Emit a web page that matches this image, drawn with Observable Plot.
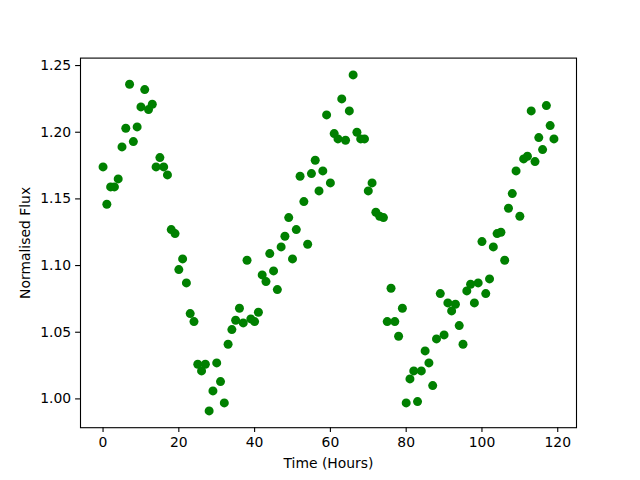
<!DOCTYPE html>
<html>
<head>
<meta charset="utf-8">
<script src="https://cdn.jsdelivr.net/npm/d3@7"></script>
<script src="https://cdn.jsdelivr.net/npm/@observablehq/plot@0.6"></script>
<style>
  html, body { margin: 0; padding: 0; background: #fff; }
</style>
</head>
<body>
<div id="chart"></div>
<script>
const hours = [0,1,2,3,4,5,6,7,8,9,10,11,12,13,14,15,16,17,18,19,
  20,21,22,23,24,25,26,27,28,29,30,31,32,33,34,35,36,37,38,39,
  40,41,42,43,44,45,46,47,48,49,50,51,52,53,54,55,56,57,58,59,
  60,61,62,63,64,65,66,67,68,69,70,71,72,73,74,75,76,77,78,79,
  80,81,82,83,84,85,86,87,88,89,90,91,92,93,94,95,96,97,98,99,
  100,101,102,103,104,105,106,107,108,109,110,111,112,113,114,115,116,117,118,119];

const flux = [1.174,1.146,1.159,1.159,1.165,1.189,1.203,1.236,1.193,1.204,
  1.219,1.232,1.217,1.221,1.174,1.181,1.174,1.168,1.127,1.124,
  1.097,1.105,1.087,1.064,1.058,1.026,1.021,1.026,0.991,1.006,
  1.027,1.013,0.997,1.041,1.052,1.059,1.068,1.057,1.104,1.060,
  1.058,1.065,1.093,1.088,1.109,1.096,1.082,1.114,1.122,1.136,
  1.105,1.127,1.167,1.148,1.116,1.169,1.179,1.156,1.171,1.213,
  1.162,1.199,1.195,1.225,1.194,1.216,1.243,1.200,1.195,1.195,
  1.156,1.162,1.140,1.137,1.136,1.058,1.083,1.058,1.047,1.068,
  0.997,1.015,1.021,0.998,1.021,1.036,1.027,1.010,1.045,1.079,
  1.048,1.072,1.066,1.071,1.055,1.041,1.081,1.086,1.072,1.087,
  1.118,1.079,1.090,1.114,1.124,1.125,1.104,1.143,1.154,1.171,
  1.137,1.180,1.182,1.216,1.178,1.196,1.187,1.220,1.205,1.195];

const xTicks = [0, 20, 40, 60, 80, 100, 120];
const yTicks = [1.00, 1.05, 1.10, 1.15, 1.20, 1.25];
const xLabel = "Time (Hours)";
const yLabel = "Normalised Flux";

const data = hours.map((h, i) => ({h, f: flux[i]}));

const xMin = d3.min(hours), xMax = d3.max(hours);
const yMin = d3.min(flux), yMax = d3.max(flux);
const xPad = (xMax - xMin) * 0.05, yPad = (yMax - yMin) * 0.05;

const chart = Plot.plot({
  width: 640,
  height: 480,
  marginLeft: 80,
  marginRight: 64,
  marginTop: 57.6,
  marginBottom: 52.8,
  style: {fontFamily: "DejaVu Sans", fontSize: "13.9px", color: "black", background: "white"},
  x: {domain: [xMin - xPad, xMax + xPad]},
  y: {domain: [yMin - yPad, yMax + yPad]},
  marks: [
    Plot.dot(data, {x: "h", y: "f", r: 4.5, fill: "#008000", stroke: null}),
    Plot.frame({stroke: "black", strokeWidth: 1.1}),
    Plot.axisX({ticks: xTicks, tickSize: 4.9, tickPadding: 4.5, strokeWidth: 1.1,
      tickFormat: d3.format("d"), label: xLabel, labelAnchor: "center", labelArrow: "none", labelOffset: 40}),
    Plot.axisY({ticks: yTicks, tickSize: 4.9, tickPadding: 4.5, strokeWidth: 1.1,
      tickFormat: d3.format(".2f"), label: yLabel, labelAnchor: "center", labelArrow: "none", labelOffset: 60})
  ]
});
document.getElementById("chart").appendChild(chart);
</script>
</body>
</html>
